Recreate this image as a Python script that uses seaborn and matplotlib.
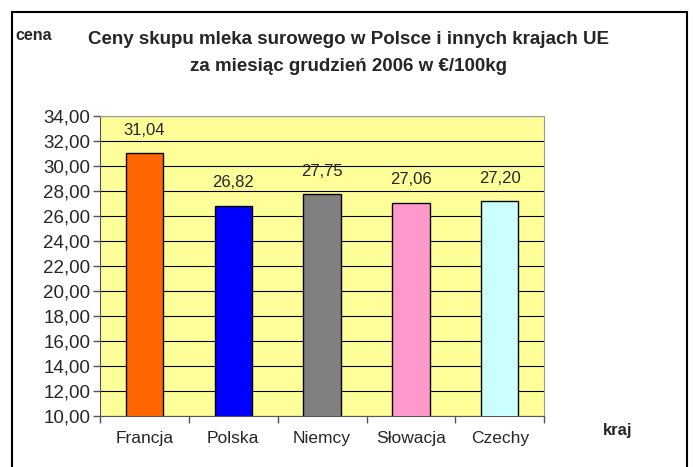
import seaborn as sns
import pandas as pd
import matplotlib.pyplot as plt
from matplotlib.patches import Rectangle
from matplotlib.ticker import FuncFormatter, MultipleLocator, FixedLocator

# Dane
kraje = ["Francja", "Polska", "Niemcy", "Słowacja", "Czechy"]
ceny = [31.04, 26.82, 27.75, 27.06, 27.20]
kolory = ["#FF6600", "#0000FF", "#808080", "#FF99CC", "#CCFFFF"]

df = pd.DataFrame({"kraj": kraje, "cena": ceny})

sns.set_style("white")
plt.rcParams["font.family"] = ["Liberation Sans", "DejaVu Sans"]

fig = plt.figure(figsize=(6.93, 4.67), dpi=100)
ax = fig.add_axes([0.1443, 0.1092, 0.641, 0.6424])

sns.barplot(data=df, x="kraj", y="cena", hue="kraj", palette=kolory, saturation=1,
            width=0.42, edgecolor="black", linewidth=1, legend=False, ax=ax, zorder=3)

ax.set_facecolor("#FFFF99")
ax.set_ylim(10, 34)
ax.set_xlim(-0.5, len(kraje) - 0.5)
ax.yaxis.set_major_locator(MultipleLocator(2))
ax.yaxis.set_major_formatter(FuncFormatter(lambda v, p: f"{v:.2f}".replace(".", ",")))
ax.grid(axis="y", color="black", linewidth=0.8, zorder=0)
ax.set_axisbelow(True)

# ticki na granicach kategorii
ax.xaxis.set_minor_locator(FixedLocator([i - 0.5 for i in range(len(kraje) + 1)]))
ax.tick_params(axis="x", which="major", length=0, pad=11, labelsize=12.5)
ax.tick_params(axis="x", which="minor", length=5, width=1, color="#555555", direction="out")
ax.tick_params(axis="y", length=5, width=1, color="#555555", direction="out", labelsize=13.5, pad=2)
ax.tick_params(bottom=True, left=True, which="both")

for s in ["left", "bottom"]:
    ax.spines[s].set_color("#555555")
for s in ["top", "right"]:
    ax.spines[s].set_color("#999999")
    ax.spines[s].set_linewidth(0.8)

ax.set_xlabel("")
ax.set_ylabel("")

# etykiety wartosci
for i, v in enumerate(ceny):
    ax.annotate(f"{v:.2f}".replace(".", ","), (i, v), xytext=(0, 11),
                textcoords="offset points", ha="center", va="bottom", fontsize=12)

fig.text(0.503, 0.915, "Ceny skupu mleka surowego w Polsce i innych krajach UE",
         ha="center", va="center", fontsize=13.5, fontweight="bold")
fig.text(0.503, 0.857, "za miesiąc grudzień 2006 w €/100kg",
         ha="center", va="center", fontsize=13.5, fontweight="bold")
fig.text(0.022, 0.925, "cena", ha="left", va="center", fontsize=11.5, fontweight="bold")
fig.text(0.87, 0.078, "kraj", ha="left", va="center", fontsize=12, fontweight="bold")

# ramka wykresu
fig.patches.append(Rectangle((12 / 693, -0.05), (687 - 12) / 693, 1.05 - 12 / 467,
                             transform=fig.transFigure, fill=False,
                             edgecolor="black", linewidth=1.5))

fig.savefig("out.png", dpi=100)
plt.close()
